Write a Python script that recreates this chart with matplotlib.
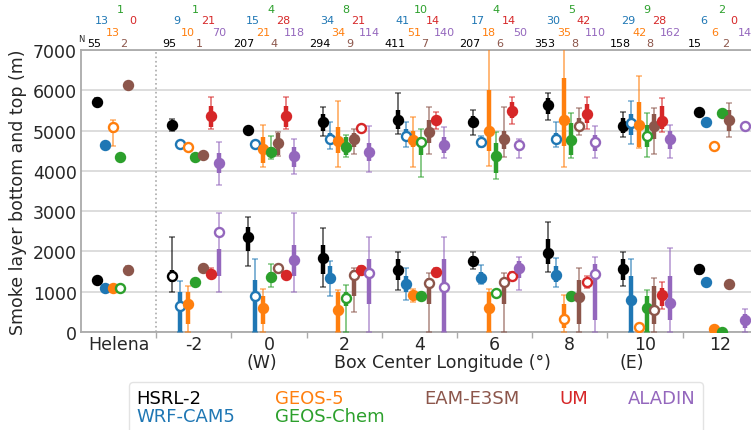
import numpy as np
import matplotlib.pyplot as plt
import matplotlib.transforms as mtransforms
from matplotlib.lines import Line2D

nan = np.nan

# box centres (Helena drawn at -4)
groups = [-4, -2, 0, 2, 4, 6, 8, 10, 12]
group_labels = ['Helena', '-2', '0', '2', '4', '6', '8', '10', '12']
models = ['HSRL-2', 'WRF-CAM5', 'GEOS-5', 'GEOS-Chem', 'EAM-E3SM', 'UM', 'ALADIN']
colors = ['black', '#1f77b4', '#ff7f0e', '#2ca02c', '#8c564b', '#d62728', '#9467bd']

# number of profiles per box
counts = {
    'HSRL-2':    [55, 95, 207, 294, 411, 207, 353, 158, 15],
    'WRF-CAM5':  [13, 9, 15, 34, 41, 17, 30, 29, 6],
    'GEOS-5':    [13, 10, 21, 34, 51, 18, 35, 42, 6],
    'GEOS-Chem': [1, 1, 4, 8, 10, 4, 5, 9, 2],
    'EAM-E3SM':  [2, 1, 4, 9, 7, 6, 8, 8, 2],
    'UM':        [0, 21, 28, 21, 14, 14, 42, 28, 0],
    'ALADIN':    [None, 70, 118, 114, 140, 50, 110, 162, 14],
}

# smoke layer top (m): median, whiskers, inner range
top_med = {
    'HSRL-2':    [5700, 5130, 5020, 5220, 5270, 5220, 5630, 5120, 5450],
    'WRF-CAM5':  [4650, 4660, 4670, 4790, 4870, 4710, 4790, 5190, 5220],
    'GEOS-5':    [5080, 4600, 4530, 4750, 4770, 4980, 5250, 5140, 4610],
    'GEOS-Chem': [4350, 4340, 4460, 4600, 4710, 4360, 4770, 4870, 5440],
    'EAM-E3SM':  [6120, 4400, 4690, 4790, 4970, 4790, 5120, 5110, 5260],
    'UM':        [nan, 5350, 5350, 5060, 5260, 5490, 5410, 5230, nan],
    'ALADIN':    [nan, 4200, 4380, 4480, 4640, 4640, 4720, 4790, 5120],
}
top_lo = {
    'HSRL-2':    [5600, 5000, 4970, 4870, 4910, 4890, 5270, 4830, 5400],
    'WRF-CAM5':  [4650, 4660, 4670, 4540, 4580, 4600, 4580, 4670, 5220],
    'GEOS-5':    [4620, 4600, 4090, 4100, 4090, 4110, 4090, 4560, 4610],
    'GEOS-Chem': [4350, 4340, 4290, 4340, 3840, 3800, 4310, 4340, 5440],
    'EAM-E3SM':  [6120, 4400, 4380, 4420, 4420, 4340, 4890, 4420, 4830],
    'UM':        [nan, 5040, 5040, 5060, 5040, 5160, 5040, 4970, nan],
    'ALADIN':    [nan, 3650, 3920, 3960, 4310, 4310, 4310, 4310, 5120],
}
top_hi = {
    'HSRL-2':    [5800, 5290, 5080, 5580, 5920, 5510, 5920, 5470, 5500],
    'WRF-CAM5':  [4650, 4660, 4670, 5220, 5220, 4860, 5220, 5730, 5220],
    'GEOS-5':    [5260, 4600, 5150, 5730, 5330, 7500, 7500, 6350, 4610],
    'GEOS-Chem': [4350, 4340, 4870, 4890, 5040, 4960, 5430, 5430, 5440],
    'EAM-E3SM':  [6120, 4400, 4960, 5040, 5580, 5580, 5550, 5550, 5680],
    'UM':        [nan, 5830, 5830, 5060, 5450, 5830, 5830, 5810, nan],
    'ALADIN':    [nan, 4710, 4790, 5120, 5100, 4790, 5120, 5140, 5120],
}
top_q1 = {
    'HSRL-2':    [5650, 5080, 4990, 5000, 5050, 5100, 5400, 4950, 5420],
    'WRF-CAM5':  [4650, 4660, 4670, 4700, 4750, 4680, 4700, 4900, 5220],
    'GEOS-5':    [4950, 4600, 4200, 4450, 4600, 4500, 4610, 4600, 4610],
    'GEOS-Chem': [4350, 4340, 4350, 4400, 4400, 3950, 4400, 4600, 5440],
    'EAM-E3SM':  [6120, 4400, 4400, 4600, 4700, 4550, 5000, 4800, 5000],
    'UM':        [nan, 5100, 5100, 5060, 5150, 5300, 5200, 5050, nan],
    'ALADIN':    [nan, 3950, 4100, 4250, 4450, 4500, 4500, 4550, 5120],
}
top_q3 = {
    'HSRL-2':    [5750, 5220, 5050, 5400, 5500, 5350, 5800, 5300, 5480],
    'WRF-CAM5':  [4650, 4660, 4670, 4950, 5050, 4760, 4950, 5400, 5220],
    'GEOS-5':    [5180, 4600, 4850, 5100, 5000, 6000, 6300, 5700, 4610],
    'GEOS-Chem': [4350, 4340, 4600, 4850, 4850, 4700, 5200, 5150, 5440],
    'EAM-E3SM':  [6120, 4400, 4950, 4950, 5250, 5000, 5300, 5400, 5500],
    'UM':        [nan, 5600, 5600, 5060, 5350, 5700, 5650, 5600, nan],
    'ALADIN':    [nan, 4450, 4600, 4700, 4850, 4700, 4900, 5000, 5120],
}

# smoke layer bottom (m)
bot_med = {
    'HSRL-2':    [1300, 1400, 2370, 1830, 1550, 1770, 1950, 1560, 1560],
    'WRF-CAM5':  [1090, 640, 900, 1340, 1190, 1340, 1420, 790, 1230],
    'GEOS-5':    [1090, 700, 590, 550, 920, 590, 320, 120, 70],
    'GEOS-Chem': [1100, 1230, 1370, 840, 900, 960, 890, 590, 10],
    'EAM-E3SM':  [1540, 1600, 1600, 1420, 1220, 1230, 860, 550, 1190],
    'UM':        [nan, 1440, 1420, 1550, 1500, 1400, 1230, 920, nan],
    'ALADIN':    [nan, 2490, 1790, 1460, 1120, 1580, 1440, 720, 300],
}
bot_lo = {
    'HSRL-2':    [1250, 1000, 1650, 1110, 1030, 1560, 1500, 1150, 1450],
    'WRF-CAM5':  [1090, 0, 0, 900, 790, 1190, 1110, 0, 1230],
    'GEOS-5':    [1090, 0, 0, 0, 740, 0, 0, 120, 70],
    'GEOS-Chem': [1100, 1230, 1110, 0, 900, 960, 890, 0, 10],
    'EAM-E3SM':  [1450, 1600, 1600, 500, 0, 0, 0, 0, 1190],
    'UM':        [nan, 1350, 1330, 1450, 1420, 1320, 1100, 570, nan],
    'ALADIN':    [nan, 1000, 1000, 0, 0, 1030, 0, 0, 0],
}
bot_hi = {
    'HSRL-2':    [1350, 2370, 2850, 2570, 1990, 1990, 2740, 1980, 1650],
    'WRF-CAM5':  [1090, 1270, 1810, 1770, 1590, 1660, 1830, 1810, 1230],
    'GEOS-5':    [1090, 1150, 1070, 1030, 1070, 1070, 920, 120, 70],
    'GEOS-Chem': [1100, 1230, 1700, 1170, 900, 960, 890, 1030, 10],
    'EAM-E3SM':  [1630, 1600, 1600, 1600, 1460, 1460, 1580, 1330, 1190],
    'UM':        [nan, 1600, 1500, 1650, 1580, 1480, 1400, 1230, nan],
    'ALADIN':    [nan, 2950, 2950, 2370, 2370, 1850, 1850, 2080, 570],
}
bot_q1 = {
    'HSRL-2':    [1270, 1250, 2000, 1450, 1300, 1650, 1700, 1300, 1500],
    'WRF-CAM5':  [1090, 0, 0, 1200, 1000, 1250, 1250, 0, 1230],
    'GEOS-5':    [1090, 200, 200, 0, 820, 0, 100, 120, 70],
    'GEOS-Chem': [1100, 1230, 1250, 650, 900, 960, 890, 0, 10],
    'EAM-E3SM':  [1500, 1600, 1600, 900, 700, 700, 200, 200, 1190],
    'UM':        [nan, 1380, 1370, 1480, 1450, 1360, 1150, 650, nan],
    'ALADIN':    [nan, 1400, 1400, 700, 0, 1350, 300, 300, 100],
}
bot_q3 = {
    'HSRL-2':    [1330, 1550, 2600, 2150, 1800, 1880, 2300, 1800, 1620],
    'WRF-CAM5':  [1090, 1000, 1300, 1650, 1400, 1500, 1650, 1400, 1230],
    'GEOS-5':    [1090, 1000, 900, 1000, 1000, 1000, 700, 120, 70],
    'GEOS-Chem': [1100, 1230, 1500, 1000, 900, 960, 890, 900, 10],
    'EAM-E3SM':  [1580, 1600, 1600, 1550, 1350, 1350, 1300, 1150, 1190],
    'UM':        [nan, 1560, 1460, 1620, 1550, 1450, 1320, 1100, nan],
    'ALADIN':    [nan, 2050, 2150, 1800, 1800, 1750, 1700, 1400, 450],
}

# marker fill per box: f = filled, o = open
top_fill = {'HSRL-2': 'fffffffff', 'WRF-CAM5': 'fooooooof', 'GEOS-5': 'ooffffffo',
            'GEOS-Chem': 'ffffoffof', 'EAM-E3SM': 'ffffffoff', 'UM': '-ffoffff-',
            'ALADIN': '-ffffoofo'}
bot_fill = {'HSRL-2': 'fofffffff', 'WRF-CAM5': 'fooffffff', 'GEOS-5': 'ffffffoof',
            'GEOS-Chem': 'offofofff', 'EAM-E3SM': 'ffoooofof', 'UM': '-ffffoof-',
            'ALADIN': '-ofoofoff'}

offsets = np.linspace(-0.57, 0.66, 7)
label_dx = [-0.66, -0.44, -0.15, 0.05, 0.14, 0.37, 0.67]
label_y = [7185, 7744, 7446, 8017, 7185, 7744, 7446]

fig = plt.figure(figsize=(7.51, 4.31), dpi=100)
ax = fig.add_axes([0.1079, 0.2274, 0.901, 0.6543])

for i, m in enumerate(models):
    c = colors[i]
    layers = [(top_med, top_lo, top_hi, top_q1, top_q3, top_fill),
              (bot_med, bot_lo, bot_hi, bot_q1, bot_q3, bot_fill)]
    for med, lo, hi, q1, q3, fill in layers:
        for j, g in enumerate(groups):
            v = med[m][j]
            if np.isnan(v):
                continue
            x = g + offsets[i]
            ax.errorbar(x, v, yerr=[[v - lo[m][j]], [hi[m][j] - v]], fmt='none',
                        ecolor=c, elinewidth=1.3, capsize=2.5, capthick=1.1,
                        alpha=0.6, zorder=3)
            ax.plot([x, x], [q1[m][j], q3[m][j]], color=c, lw=3.2,
                    solid_capstyle='butt', zorder=4)
            ax.plot(x, v, 'o', ms=6.5, mec=c, mew=1.7,
                    mfc='white' if fill[m][j] == 'o' else c, zorder=5)
    for j, g in enumerate(groups):
        n = counts[m][j]
        if n is None:
            continue
        ax.text(g + label_dx[i], label_y[i], str(n), color=c, fontsize=8,
                ha='center', va='center', clip_on=False)

ax.text(-4.98, 7290, 'N', fontsize=6, ha='center', va='center', color='#262626',
        clip_on=False)

ax.axvline(-3, color='#aaaaaa', ls=':', lw=1.2, zorder=1)

ax.set_xlim(-5, 13)
ax.set_ylim(0, 7000)
ax.set_yticks(range(0, 7001, 1000))
ax.set_xticks([-3, -1, 1, 3, 5, 7, 9, 11])
ax.set_xticklabels([])
ax.set_xticks(groups, minor=True)
ax.set_xticklabels(group_labels, minor=True)
ax.tick_params(axis='x', which='major', length=4, color='#aaaaaa', width=1)
ax.tick_params(axis='x', which='minor', length=0, pad=2, labelsize=12.5,
               labelcolor='#262626')
ax.tick_params(axis='y', length=0, pad=3, labelsize=12.5, labelcolor='#262626')
ax.grid(axis='y', color='#dddddd', lw=1.4, zorder=0)
ax.set_axisbelow(True)
for s in ['left', 'bottom', 'top']:
    ax.spines[s].set_color('#aaaaaa')
    ax.spines[s].set_linewidth(1.3)
ax.spines['right'].set_visible(False)

ax.set_ylabel('Smoke layer bottom and top (m)', fontsize=12.5, color='#262626')

trans = mtransforms.blended_transform_factory(ax.transData, ax.transAxes)
ax.text(4.61, -0.108, 'Box Center Longitude (°)', transform=trans, fontsize=12.5,
        ha='center', va='center', color='#262626')
ax.text(-0.19, -0.108, '(W)', transform=trans, fontsize=12.5, ha='center',
        va='center', color='#262626')
ax.text(9.66, -0.108, '(E)', transform=trans, fontsize=12.5, ha='center',
        va='center', color='#262626')

handles = [Line2D([], [], linestyle='none') for _ in models]
leg = fig.legend(handles, models, loc='upper left', bbox_to_anchor=(0.1718, 0.1114),
                 ncol=5, fontsize=13, handlelength=0, handletextpad=0,
                 columnspacing=2.2, labelspacing=0.0, borderpad=0.4,
                 borderaxespad=0, frameon=True, edgecolor='#dddddd')
for t, c in zip(leg.get_texts(), colors):
    t.set_color(c)

fig.savefig('out.png', dpi=100)
